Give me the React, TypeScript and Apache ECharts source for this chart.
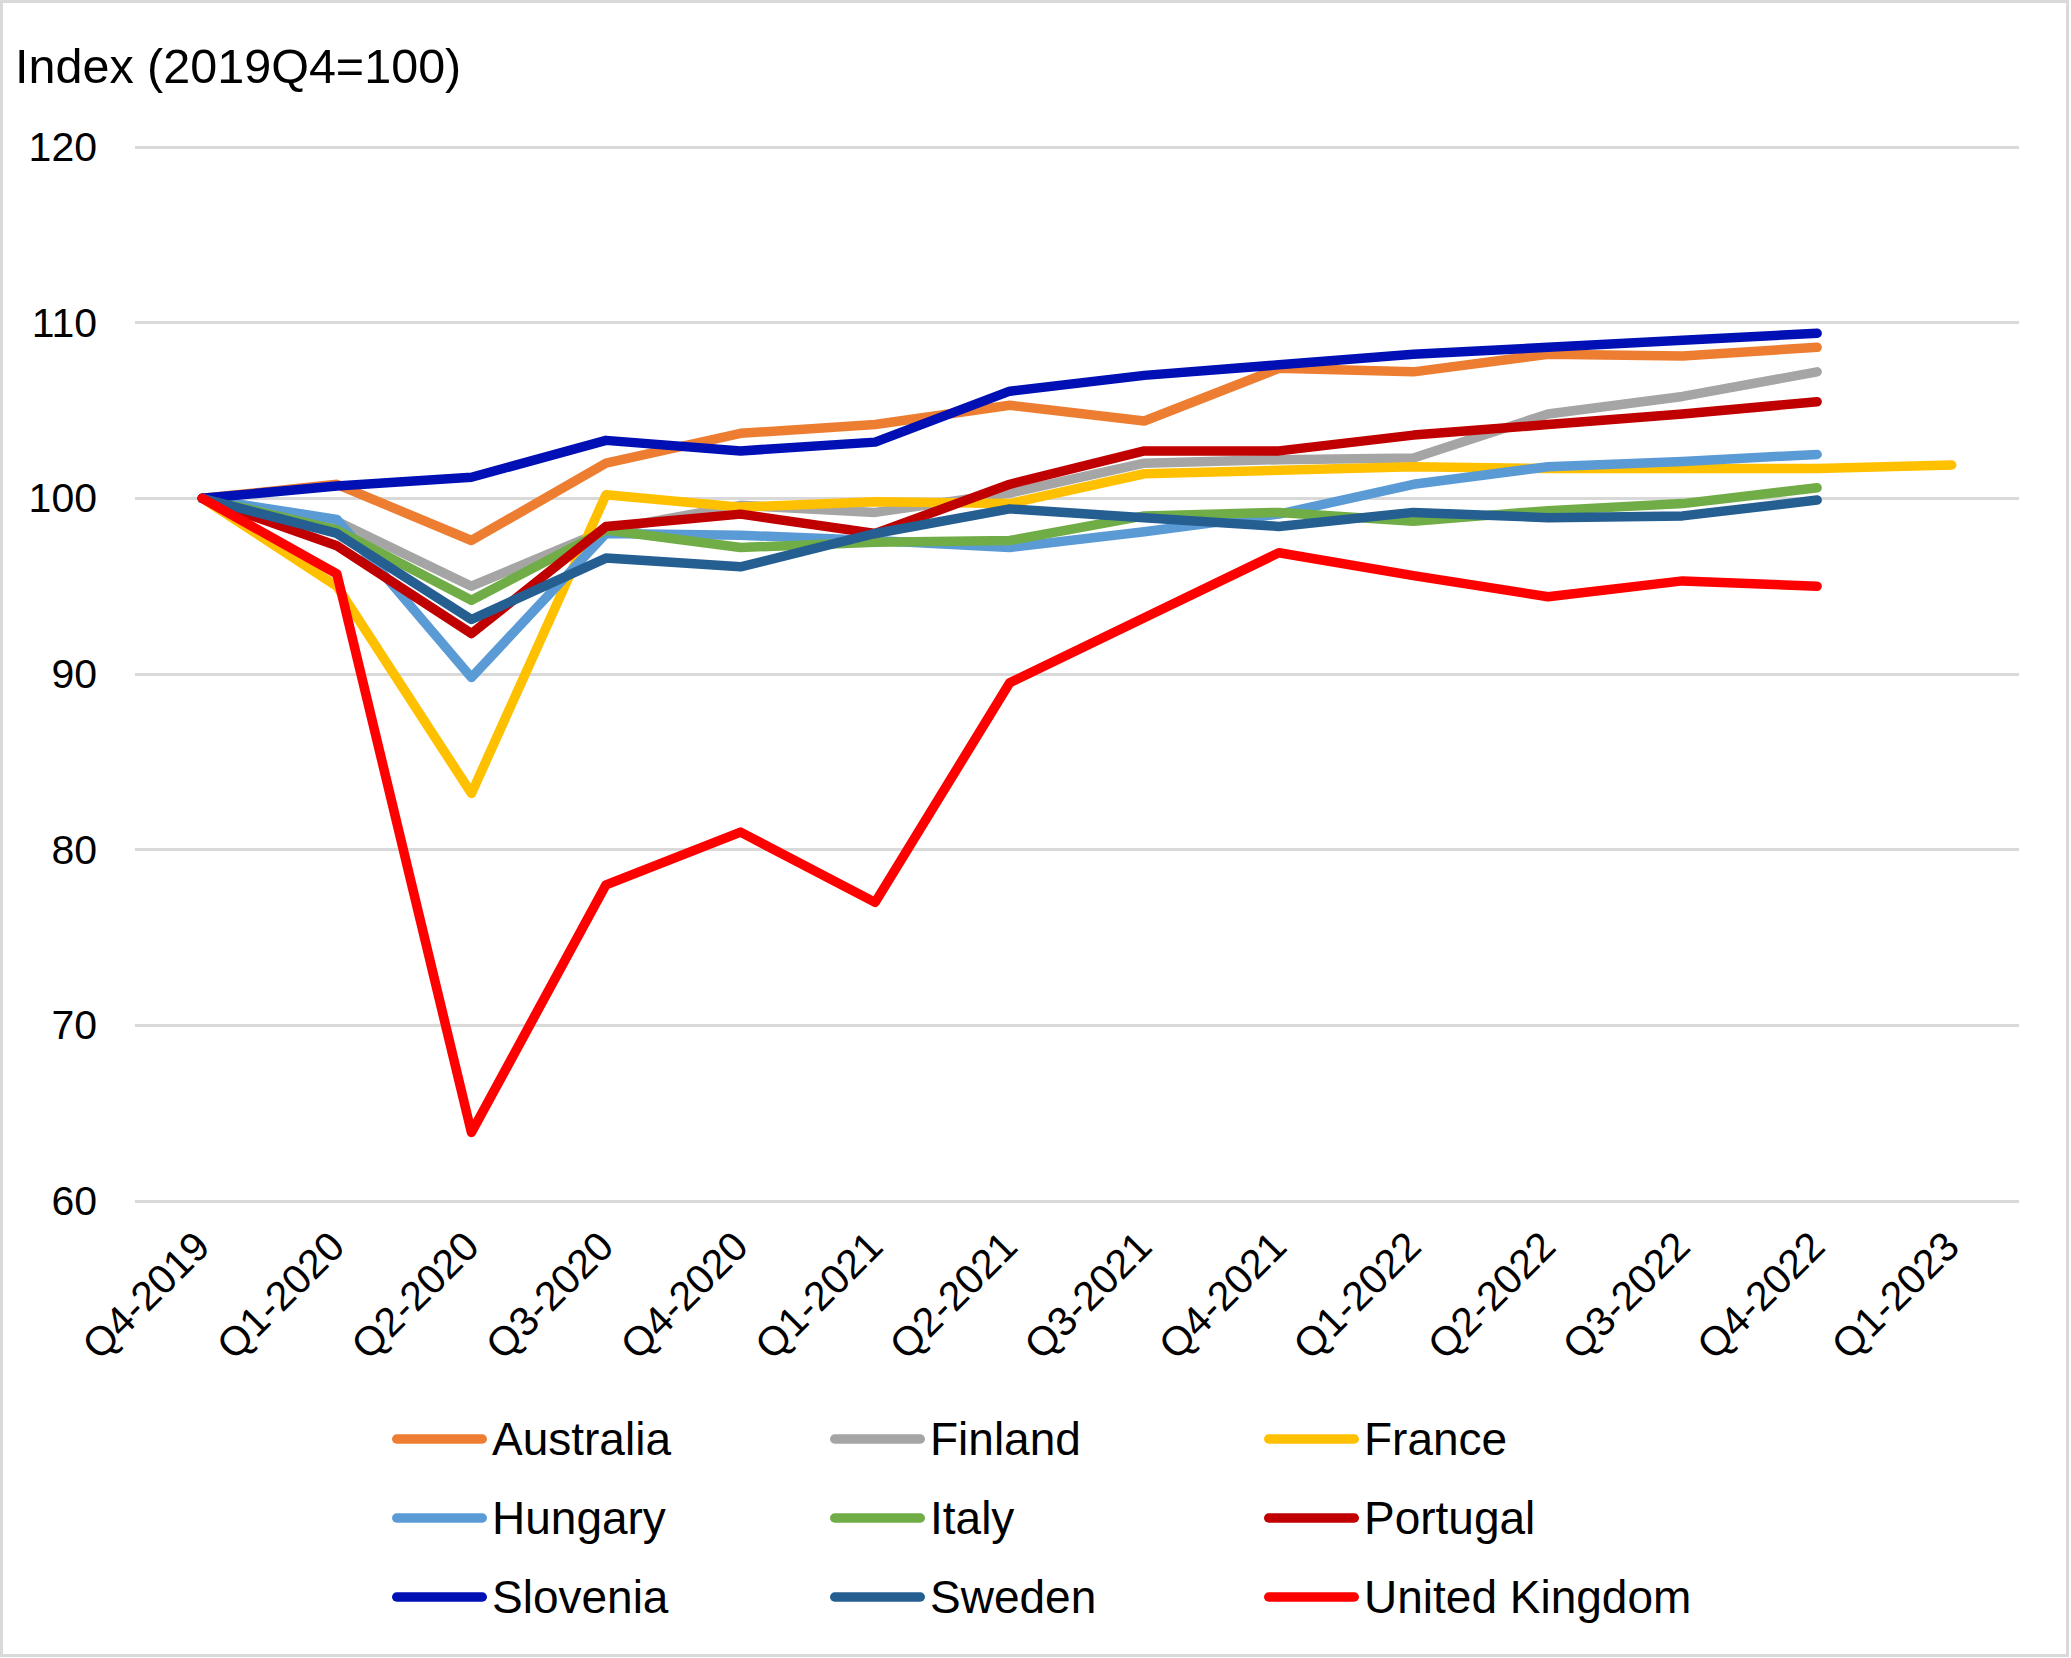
import React, { useEffect, useRef } from "react";
import * as echarts from "echarts";

const categories = [
  "Q4-2019", "Q1-2020", "Q2-2020", "Q3-2020", "Q4-2020", "Q1-2021", "Q2-2021",
  "Q3-2021", "Q4-2021", "Q1-2022", "Q2-2022", "Q3-2022", "Q4-2022", "Q1-2023",
];

const australia = [100, 100.8, 97.6, 102.0, 103.7, 104.2, 105.3, 104.4, 107.4, 107.2, 108.2, 108.1, 108.6, null];
const finland = [100, 98.7, 95.0, 98.2, 99.6, 99.2, 100.3, 102.0, 102.2, 102.3, 104.8, 105.8, 107.2, null];
const france = [100, 95.0, 83.2, 100.2, 99.5, 99.8, 99.7, 101.4, 101.6, 101.8, 101.7, 101.7, 101.7, 101.9];
const hungary = [100, 98.8, 89.8, 98.0, 97.9, 97.6, 97.2, 98.1, 99.1, 100.8, 101.8, 102.1, 102.5, null];
const italy = [100, 98.2, 94.2, 98.2, 97.2, 97.5, 97.6, 99.0, 99.2, 98.7, 99.3, 99.7, 100.6, null];
const portugal = [100, 97.3, 92.3, 98.4, 99.1, 98.0, 100.8, 102.7, 102.7, 103.6, 104.2, 104.8, 105.5, null];
const slovenia = [100, 100.7, 101.2, 103.3, 102.7, 103.2, 106.1, 107.0, 107.6, 108.2, 108.6, 109.0, 109.4, null];
const sweden = [100, 98.0, 93.1, 96.6, 96.1, 98.0, 99.4, 98.9, 98.4, 99.2, 98.9, 99.0, 99.9, null];
const unitedKingdom = [100, 95.7, 63.9, 78.0, 81.0, 77.0, 89.5, 93.2, 96.9, 95.6, 94.4, 95.3, 95.0, null];

const seriesDefs = [
  { name: "Australia", data: australia, color: "#ED7D31" },
  { name: "Finland", data: finland, color: "#A5A5A5" },
  { name: "France", data: france, color: "#FFC000" },
  { name: "Hungary", data: hungary, color: "#5B9BD5" },
  { name: "Italy", data: italy, color: "#70AD47" },
  { name: "Portugal", data: portugal, color: "#C00000" },
  { name: "Slovenia", data: slovenia, color: "#0010B4" },
  { name: "Sweden", data: sweden, color: "#255E91" },
  { name: "United Kingdom", data: unitedKingdom, color: "#FF0000" },
];

const legendColumns = [
  ["Australia", "Hungary", "Slovenia"],
  ["Finland", "Italy", "Sweden"],
  ["France", "Portugal", "United Kingdom"],
];
const legendLefts = [392, 830, 1264];

const FONT = "'Liberation Sans', Arial, sans-serif";

export default function App() {
  const ref = useRef<HTMLDivElement>(null);
  useEffect(() => {
    document.body.style.margin = "0";
    if (!ref.current) return;
    const chart = echarts.init(ref.current, null, { renderer: "svg" });
    const legendIcon = "path://M5,0 L95,0 A5,5 0 0 1 95,10 L5,10 A5,5 0 0 1 5,0 Z";
    chart.setOption({
      animation: false,
      backgroundColor: "#ffffff",
      title: {
        text: "Index (2019Q4=100)",
        left: 15,
        top: 41,
        padding: 0,
        textStyle: { fontFamily: FONT, fontSize: 48.5, fontWeight: "normal", color: "#000" },
      },
      graphic: [
        {
          type: "rect",
          shape: { x: 1.5, y: 1.5, width: 2066, height: 1654 },
          style: { fill: "none", stroke: "#d9d9d9", lineWidth: 3 },
          silent: true,
        },
      ],
      grid: { left: 135, right: 52, top: 147, bottom: 457, containLabel: false },
      legend: legendColumns.map((names, i) => ({
        orient: "vertical",
        left: legendLefts[i],
        top: 1414,
        data: names,
        icon: legendIcon,
        itemWidth: 95,
        itemHeight: 10,
        itemGap: 29,
        padding: 0,
        selectedMode: false,
        textStyle: { fontFamily: FONT, fontSize: 46, color: "#000", lineHeight: 50 },
      })),
      xAxis: {
        type: "category",
        data: categories,
        boundaryGap: true,
        axisLine: { show: false },
        axisTick: { show: false },
        axisLabel: {
          interval: 0,
          rotate: 45,
          margin: 38,
          fontFamily: FONT,
          fontSize: 41,
          color: "#000",
        },
      },
      yAxis: {
        type: "value",
        min: 60,
        max: 120,
        interval: 10,
        axisLine: { show: false },
        axisTick: { show: false },
        axisLabel: { margin: 38, fontFamily: FONT, fontSize: 41, color: "#000" },
        splitLine: { lineStyle: { color: "#d9d9d9", width: 3 } },
      },
      series: seriesDefs.map((s) => ({
        name: s.name,
        type: "line",
        data: s.data,
        symbol: "none",
        color: s.color,
        lineStyle: { color: s.color, width: 9.5, cap: "round", join: "round" },
        itemStyle: { color: s.color },
      })),
    });
    return () => chart.dispose();
  }, []);
  return <div ref={ref} style={{ width: 2071, height: 1658 }} />;
}
